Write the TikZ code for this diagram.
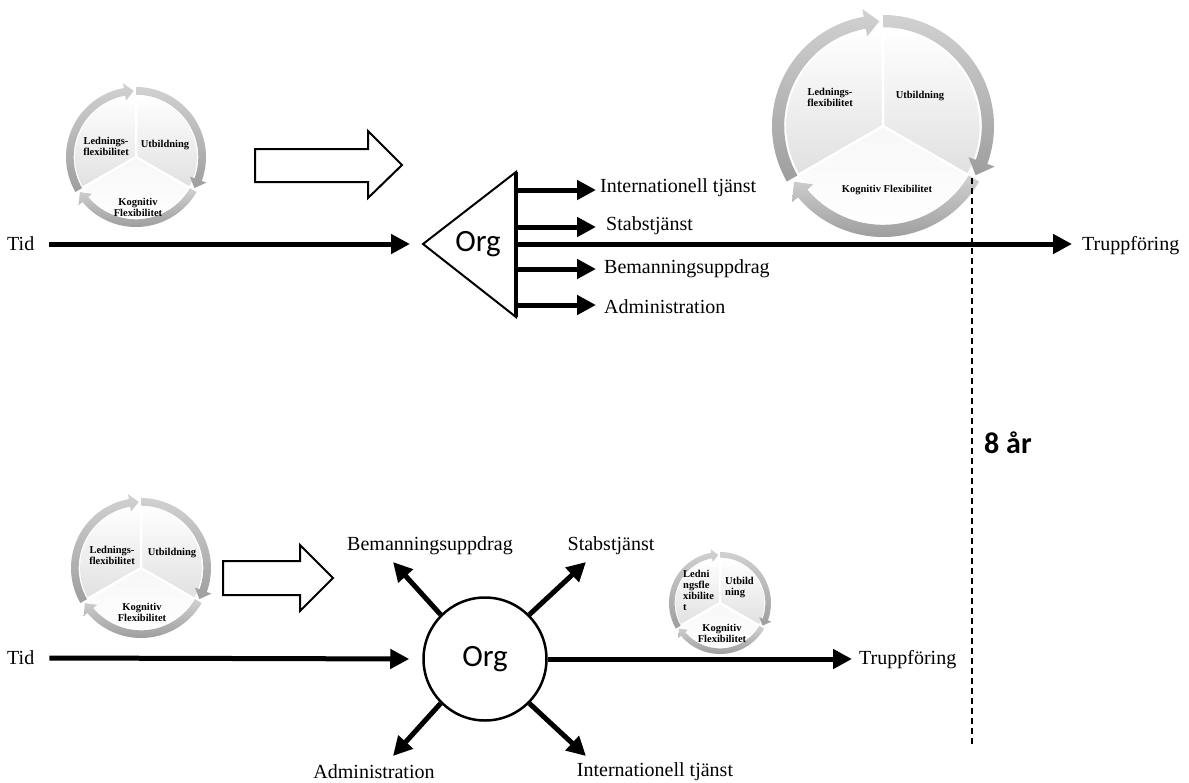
\documentclass[tikz,border=0pt]{standalone}
\usepackage{fontspec}
\setmainfont{Liberation Serif}
\newfontfamily\calibri{Carlito}
\usetikzlibrary{arrows.meta}
\newcommand\ringarrow[1]{%
  \shade[top color=black!18, bottom color=black!38]
    (#1:1) arc[start angle=#1, end angle={#1-110}, radius=1]
    -- ({#1-110}:1.07) -- ({#1-118}:0.945) -- ({#1-110}:0.82) -- ({#1-110}:0.89)
    arc[start angle={#1-110}, end angle=#1, radius=0.89] -- cycle;}
\newcommand\cyclepic[3]{%
  \begin{scope}[shift={(#1,#2)}, x=#3pt, y=#3pt]
    \shade[top color=white, bottom color=black!12] (0,0) -- (90:0.87) arc[start angle=90, end angle=210, radius=0.87] -- cycle;
    \shade[top color=white, bottom color=black!12] (0,0) -- (-30:0.87) arc[start angle=-30, end angle=90, radius=0.87] -- cycle;
    \shade[top color=black!3, bottom color=white] (0,0) -- (210:0.87) arc[start angle=210, end angle=330, radius=0.87] -- cycle;
    \draw[white, line width=2.5pt] (0,0) -- (90:0.9) (0,0) -- (210:0.9) (0,0) -- (330:0.9);
    \ringarrow{210}\ringarrow{90}\ringarrow{-30}
  \end{scope}}
\begin{document}
\begin{tikzpicture}[x=1pt,y=-1pt,
  lbl/.style={font=\fontsize{20}{24}\selectfont, inner sep=0pt},
  ctxt/.style={font=\bfseries\fontsize{10.5}{11}\selectfont, align=center, inner sep=0pt},
  ctxtl/.style={font=\bfseries\fontsize{10.5}{11}\selectfont, align=left, inner sep=0pt, anchor=west},
  thickarrow/.style={line width=5pt, -{Triangle[length=19pt,width=19pt]}},
  blockarrow/.style={draw, line width=2pt, fill=white, line join=miter},
  orgtext/.style={font=\calibri\fontsize{31}{36}\selectfont},
  yearsep/.style={line width=1.5pt, dash pattern=on 6pt off 4pt}]
\useasboundingbox (0,0) rectangle (1189,782);

% ---------- cycles ----------
\cyclepic{136}{157}{70}
\cyclepic{883}{126}{111}
\cyclepic{141}{568}{70}
\cyclepic{720}{603}{51}

\node[ctxt] (tlL) at (106,146) {Lednings-\\flexibilitet};
\node[ctxt] (tlU) at (165,145) {Utbildning};
\node[ctxt] (tlK) at (138,207.5) {Kognitiv\\Flexibilitet};

\node[ctxt] (trL) at (830,97) {Lednings-\\flexibilitet};
\node[ctxt] (trU) at (920,96) {Utbildning};
\node[ctxt] (trK) at (887,190) {Kognitiv Flexibilitet};

\node[ctxt] (blL) at (112,555) {Lednings-\\flexibilitet};
\node[ctxt] (blU) at (172,553) {Utbildning};
\node[ctxt] (blK) at (142,612) {Kognitiv\\Flexibilitet};

\node[ctxtl] (smL) at (683,590) {Ledni\\ngsfle\\xibilite\\t};
\node[ctxtl] (smU) at (725,588) {Utbild\\ning};
\node[ctxt] (smK) at (722,633) {Kognitiv\\Flexibilitet};

% ---------- block arrows ----------
\draw[blockarrow] (255,149) -- (368,149) -- (368,131) -- (402,165) -- (368,198) -- (368,182) -- (255,182) -- cycle;
\draw[blockarrow] (223,561) -- (300,561) -- (300,545) -- (333,578) -- (300,611) -- (300,595) -- (223,595) -- cycle;

% ---------- top row ----------
\node[lbl, anchor=west] (tid1) at (7,244) {Tid};
\coordinate (apex) at (423,244);
\coordinate (tt) at (516,172);
\coordinate (tb) at (516,317);
\draw[line width=2pt, line join=miter] (apex) -- (tt) -- (tb) -- cycle;
\draw[line width=3.5pt] (tt) -- (tb);
\node[orgtext] (org1) at (478,244) {Org};
\draw[thickarrow, shorten >=13pt] ([xshift=15pt]tid1.east) -- (apex);

\node[lbl, anchor=west] (intl1) at (600,188) {Internationell tjänst};
\node[lbl, anchor=west] (stab1) at (606,226) {Stabstjänst};
\node[lbl, anchor=west] (bem1)  at (604,269) {Bemanningsuppdrag};
\node[lbl, anchor=west] (adm1)  at (604,307) {Administration};
\node[lbl, anchor=west] (trupp1) at (1082,246) {Truppföring};

\coordinate (e1) at (516,190);
\coordinate (e2) at (516,227);
\coordinate (e3) at (516,269);
\coordinate (e4) at (516,305);
\coordinate (e0) at (516,244);
\draw[thickarrow] (e1) -- (e1 -| 596,0);
\draw[thickarrow] (e2) -- (e2 -| 596,0);
\draw[thickarrow] (e3) -- (e3 -| 596,0);
\draw[thickarrow] (e4) -- (e4 -| 596,0);
\draw[thickarrow] (e0) -- (e0 -| 1072,0);

% ---------- years ----------
\coordinate (d1) at (972,178);
\coordinate (d2) at (972,746);
\draw[yearsep] (d1) -- (d2);
\node[font=\calibri\bfseries\fontsize{30}{36}\selectfont, anchor=west, inner sep=0pt] (years) at (984,443) {8 år};

% ---------- bottom row ----------
\node[lbl, anchor=west] (tid2) at (7,658) {Tid};
\node[draw, circle, line width=2.5pt, minimum size=123pt, inner sep=0pt, orgtext] (org2) at (485,659) {Org};
\draw[thickarrow, shorten >=13pt] ([xshift=15pt]tid2.east) -- (org2.west);
\node[lbl, anchor=west] (trupp2) at (859,660) {Truppföring};
\draw[thickarrow] (org2.east) -- (org2.east -| 852,0);

\node[lbl] (bem2)  at (430,546) {Bemanningsuppdrag};
\node[lbl] (stab2) at (611,546) {Stabstjänst};
\node[lbl] (adm2)  at (374,772) {Administration};
\node[lbl] (intl2) at (655,772) {Internationell tjänst};

\coordinate (tBem) at (393,562);
\coordinate (tStab) at (586,562);
\coordinate (tAdm) at (393,756);
\coordinate (tIntl) at (586,756);
\draw[thickarrow] (org2.135) -- (tBem);
\draw[thickarrow] (org2.45) -- (tStab);
\draw[thickarrow] (org2.225) -- (tAdm);
\draw[thickarrow] (org2.-45) -- (tIntl);
\end{tikzpicture}
\end{document}
